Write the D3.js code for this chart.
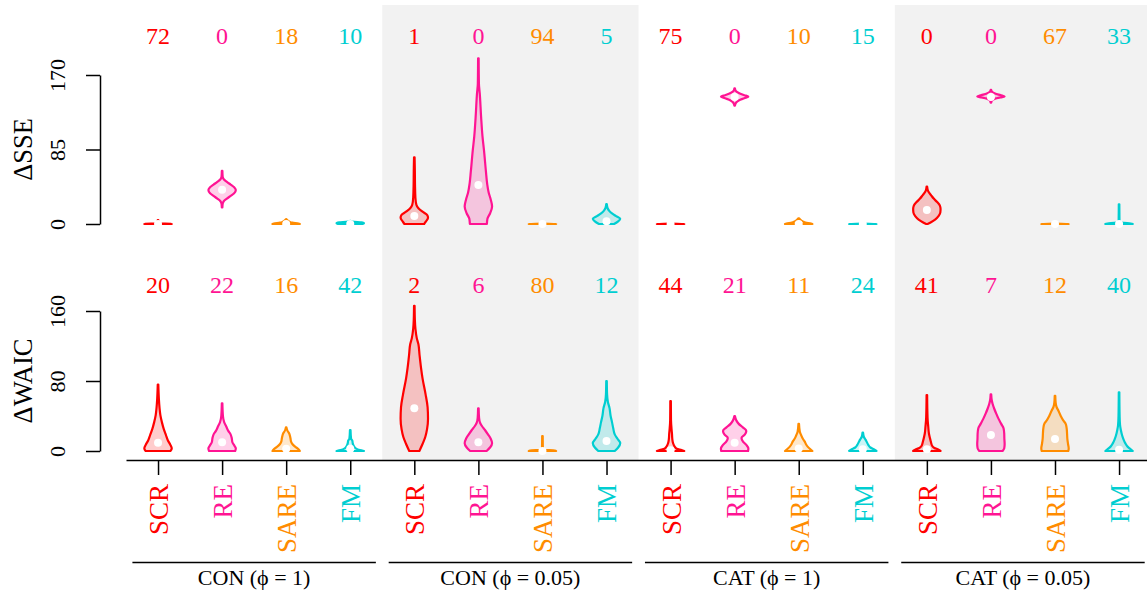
<!DOCTYPE html>
<html>
<head>
<meta charset="utf-8">
<script src="https://cdn.jsdelivr.net/npm/d3@7"></script>
<style>
  body { margin: 0; background: #ffffff; }
  svg { display: block; }
</style>
</head>
<body>
<script>
// ---------------- DATA ----------------
const groups = ["CON (\u03D5 = 1)", "CON (\u03D5 = 0.05)", "CAT (\u03D5 = 1)", "CAT (\u03D5 = 0.05)"];
const methods = ["SCR", "RE", "SARE", "FM"];
const methodColors = ["#FF0000", "#FF1493", "#FF8C00", "#00CED1"];
const shadedGroups = [1, 3];

// counts shown above each violin (per group, per method)
const sseCounts  = [[72, 0, 18, 10], [1, 0, 94, 5], [75, 0, 10, 15], [0, 0, 67, 33]];
const waicCounts = [[20, 22, 16, 42], [2, 6, 80, 12], [44, 21, 11, 24], [41, 7, 12, 40]];

const sseTicks  = [0, 85, 170];
const waicTicks = [0, 80, 160];

// medians (white dots)
const sseMedians  = [0, 39, 0, 0,   9, 44.5, 0, 3,   0, 145, 0, 0,   16, 145, 0, 0];
const waicMedians = [9.5, 10, 2.7, 2.7,   48.8, 10, 0, 11.4,   1, 9.5, 3, 2,   2, 18.3, 13.7, 1.5];

// violin profiles: [value, relative density width]
const sseViolins = [
  // CON (phi = 1)
  [[0,1],[0.4,1],[0.6,0.03],[4.5,0.02]],
  [[19,0.02],[23,0.04],[26,0.12],[29,0.35],[32,0.62],[35,0.88],[38.8,1],[42,0.88],[45,0.62],[48,0.35],[51,0.12],[54,0.04],[60.5,0.02]],
  [[0,1],[0.5,0.9],[1.5,0.45],[2.5,0.25],[4,0.12],[5.5,0.02]],
  [[0,0.9],[0.8,1],[1.8,0.8],[2.5,0.3],[3.5,0.02]],
  // CON (phi = 0.05)
  [[0,0.72],[3,0.85],[7,1],[10,0.95],[14,0.6],[18,0.3],[22,0.15],[30,0.08],[45,0.05],[60,0.04],[76,0.02]],
  [[0,0.62],[6,0.66],[12,0.85],[20,1],[28,0.9],[36,0.75],[46,0.64],[60,0.55],[84,0.41],[100,0.3],[122,0.2],[149,0.1],[160,0.04],[189,0.02]],
  [[0,1],[0.4,1],[0.6,0.02]],
  [[0,0.55],[3,0.85],[6,1],[9,0.7],[12,0.4],[15,0.2],[18,0.08],[22.8,0.02]],
  // CAT (phi = 1)
  [[0,1],[0.4,1],[0.6,0.02]],
  [[135,0.02],[138,0.08],[141,0.3],[143.5,0.7],[145.3,1],[147,0.7],[149.5,0.3],[152,0.08],[154.8,0.02]],
  [[0,1],[0.5,0.9],[1.5,0.5],[3,0.3],[4.5,0.15],[6.5,0.02]],
  [[0,1],[0.4,1],[0.6,0.02]],
  // CAT (phi = 0.05)
  [[0,0.05],[2,0.3],[5,0.6],[9,0.85],[13,0.98],[17,1],[21,0.95],[25,0.75],[29,0.5],[33,0.3],[36,0.15],[38,0.08],[42.6,0.02]],
  [[138.5,0.02],[141,0.08],[143,0.3],[144.5,0.7],[145.5,1],[147,0.7],[149,0.3],[151,0.08],[153,0.02]],
  [[0,1],[0.4,1],[0.6,0.02]],
  [[0,1],[0.6,0.85],[1.3,0.35],[2.2,0.08],[4,0.03],[22.4,0.02]]
];

const waicViolins = [
  // CON (phi = 1)
  [[0,0.9],[3,1],[7,0.9],[12,0.72],[18,0.58],[25,0.42],[33,0.28],[41,0.17],[49,0.11],[60,0.06],[76,0.02]],
  [[0,0.95],[3,1],[6,0.9],[10,0.75],[15,0.7],[19,0.62],[23,0.45],[28,0.3],[33,0.15],[40,0.06],[54.5,0.02]],
  [[0,1],[2,0.9],[5,0.65],[8,0.45],[11,0.35],[14,0.32],[17,0.28],[20,0.22],[23,0.1],[27,0.02]],
  [[0,1],[1,0.7],[3,0.4],[6,0.25],[9,0.18],[12,0.15],[14,0.06],[24,0.02]],
  // CON (phi = 0.05)
  [[0,0.37],[8,0.6],[16,0.8],[25,0.93],[37,1],[50,0.97],[65,0.82],[83,0.6],[95,0.49],[110,0.38],[122,0.3],[129,0.18],[140,0.08],[150,0.04],[166,0.02]],
  [[0,0.6],[4,0.85],[9,1],[14,0.9],[19,0.7],[24,0.48],[28,0.28],[32,0.13],[38,0.05],[48.8,0.02]],
  [[0,1],[0.6,0.9],[1.2,0.1],[3,0.03],[17,0.02]],
  [[0,0.6],[4,0.85],[9,1],[14,0.8],[19,0.6],[26,0.49],[33,0.4],[40,0.3],[49,0.22],[56,0.1],[65,0.04],[80,0.02]],
  // CAT (phi = 1)
  [[0,1],[1,0.8],[2.5,0.45],[5,0.3],[9,0.18],[13,0.13],[20,0.1],[25,0.07],[35,0.03],[57,0.02]],
  [[0,0.98],[3,1],[7,0.85],[11,0.6],[15,0.5],[19,0.75],[23,0.85],[27,0.6],[31,0.3],[35,0.12],[40,0.02]],
  [[0,1],[2,0.85],[5,0.65],[8,0.52],[11,0.43],[14,0.3],[18,0.18],[22,0.08],[31,0.02]],
  [[0,1],[2,0.8],[4,0.55],[7,0.4],[10,0.3],[13,0.2],[16,0.08],[21,0.02]],
  // CAT (phi = 0.05)
  [[0,1],[1.5,0.85],[3.5,0.55],[6,0.38],[10,0.3],[15,0.22],[20,0.15],[28,0.1],[38,0.05],[64,0.02]],
  [[0,0.85],[3,0.97],[8,1],[14,0.98],[20,0.97],[26,0.92],[31,0.75],[37,0.55],[43,0.38],[48,0.25],[54,0.12],[58,0.06],[64.8,0.02]],
  [[0,0.97],[3,1],[8,0.95],[14,0.9],[20,0.88],[26,0.85],[31,0.78],[35,0.6],[40,0.42],[46,0.25],[50,0.12],[55,0.05],[63,0.02]],
  [[0,1],[2,0.85],[5,0.62],[9,0.45],[13,0.33],[18,0.22],[24,0.13],[30,0.07],[40,0.04],[67,0.02]]
];

// ---------------- CHART ----------------
const W = 1147, H = 592;
const FONT = "'Liberation Serif', 'Times New Roman', Times, serif";

const svg = d3.select("body").append("svg")
  .attr("width", W).attr("height", H)
  .style("font-family", FONT);

const nSlots = groups.length * methods.length;
const x = d3.scaleLinear().domain([-0.5, nSlots - 0.5]).range([126, 1151.1]);
const ySSE  = d3.scaleLinear().domain([0, 170]).range([224, 75]);
const yWAIC = d3.scaleLinear().domain([0, 160]).range([451, 311]);
const halfW = (x(1) - x(0)) * 0.214;

// shaded background panels
shadedGroups.forEach(g => {
  svg.append("rect")
    .attr("x", x(g * 4 - 0.5))
    .attr("width", x(g * 4 + 3.5) - x(g * 4 - 0.5))
    .attr("y", 5).attr("height", 455)
    .attr("fill", "#f2f2f2");
});

function drawPanel(violins, medians, counts, y, countBaseline) {
  const gPanel = svg.append("g");
  violins.forEach((prof, i) => {
    const cx = x(i);
    const col = methodColors[i % 4];
    const area = d3.area()
      .curve(d3.curveMonotoneY)
      .y(d => y(d[0]))
      .x0(d => cx - d[1] * halfW)
      .x1(d => cx + d[1] * halfW);
    gPanel.append("path")
      .attr("d", area(prof))
      .attr("fill", col).attr("fill-opacity", 0.2)
      .attr("stroke", col).attr("stroke-width", 2.2)
      .attr("stroke-linejoin", "round");
    gPanel.append("circle")
      .attr("cx", cx).attr("cy", y(medians[i]))
      .attr("r", 4).attr("fill", "#ffffff");
  });
  counts.forEach((row, g) => {
    row.forEach((c, m) => {
      gPanel.append("text")
        .attr("x", x(g * 4 + m)).attr("y", countBaseline)
        .attr("text-anchor", "middle")
        .attr("font-size", 24)
        .attr("fill", methodColors[m])
        .text(c);
    });
  });
}

drawPanel(sseViolins, sseMedians, sseCounts, ySSE, 44);
drawPanel(waicViolins, waicMedians, waicCounts, yWAIC, 293);

// y axes
function drawYAxis(y, ticks, title) {
  const g = svg.append("g").attr("transform", "translate(100,0)")
    .call(d3.axisLeft(y).tickValues(ticks).tickSize(14).tickSizeOuter(0));
  g.attr("font-family", FONT).attr("font-size", 22);
  g.select(".domain").attr("stroke", "#000").attr("stroke-width", 1.5);
  g.selectAll(".tick line").attr("stroke", "#000").attr("stroke-width", 1.5);
  g.selectAll(".tick text")
    .attr("x", null).attr("dy", null)
    .attr("transform", "translate(-35,0) rotate(-90)")
    .attr("text-anchor", "middle")
    .attr("fill", "#000");
  const mid = (y.range()[0] + y.range()[1]) / 2;
  svg.append("text")
    .attr("transform", `translate(32,${mid}) rotate(-90)`)
    .attr("text-anchor", "middle")
    .attr("font-size", 26.5)
    .attr("fill", "#000")
    .text(title);
}
drawYAxis(ySSE, sseTicks, "\u0394SSE");
drawYAxis(yWAIC, waicTicks, "\u0394WAIC");

// x axis
const gx = svg.append("g").attr("transform", "translate(0,460)")
  .call(d3.axisBottom(x).tickValues(d3.range(nSlots)).tickSize(15).tickSizeOuter(0)
    .tickFormat(i => methods[i % 4]));
gx.attr("font-family", FONT).attr("font-size", 27);
gx.select(".domain").attr("stroke", "#000").attr("stroke-width", 1.5);
gx.selectAll(".tick line").attr("stroke", "#000").attr("stroke-width", 1.5);
gx.selectAll(".tick text")
  .attr("y", null).attr("x", null).attr("dy", "0.35em")
  .attr("transform", "translate(0,24) rotate(-90)")
  .attr("text-anchor", "end")
  .attr("fill", i => methodColors[i % 4]);

// group brackets and labels
groups.forEach((name, g) => {
  svg.append("line")
    .attr("x1", x(g * 4 - 0.4)).attr("x2", x(g * 4 + 3.4))
    .attr("y1", 562.5).attr("y2", 562.5)
    .attr("stroke", "#000").attr("stroke-width", 1.5);
  svg.append("text")
    .attr("x", x(g * 4 + 1.5)).attr("y", 585)
    .attr("text-anchor", "middle")
    .attr("font-size", 22)
    .attr("fill", "#000")
    .text(name);
});
</script>
</body>
</html>
